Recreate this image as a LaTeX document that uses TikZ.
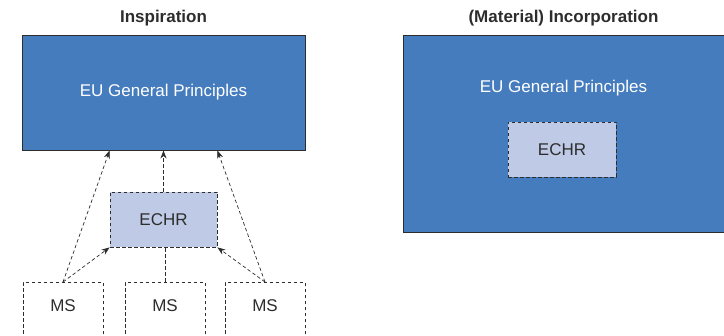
\documentclass[tikz,border=0pt]{standalone}
\usepackage{fontspec}
\setmainfont{Liberation Sans}
\usetikzlibrary{arrows.meta}
\definecolor{eublue}{RGB}{69,124,190}
\definecolor{echrfill}{RGB}{191,203,230}
\definecolor{edge}{RGB}{45,45,45}
\begin{document}
\begin{tikzpicture}[x=1pt,y=-1pt,
  title/.style={font=\fontsize{17}{20}\selectfont\bfseries, text=edge},
  eubox/.style={draw=edge, line width=0.9pt, fill=eublue, text=white,
    font=\fontsize{17}{20}\selectfont, inner sep=0pt},
  echrbox/.style={draw=edge, line width=0.8pt, dash pattern=on 3.5pt off 2.5pt,
    fill=echrfill, text=edge, minimum width=107pt, minimum height=55pt,
    font=\fontsize{17}{20}\selectfont, inner sep=0pt},
  msbox/.style={draw=edge, line width=0.8pt, dash pattern=on 3.5pt off 2.5pt,
    minimum width=80pt, minimum height=80pt, anchor=north, inner sep=0pt},
  mstext/.style={text=edge, font=\fontsize{17}{20}\selectfont, inner sep=0pt},
  link/.style={draw=edge, line width=0.7pt, dash pattern=on 3.5pt off 2.5pt},
  arr/.style={link, -{Stealth[length=8pt,width=6pt,inset=2.5pt]}}
]
\useasboundingbox (0,0) rectangle (724,336);

% Left panel: inspiration
\node[title] (tl) at (163.5,18) {Inspiration};
\node[eubox, minimum width=283pt, minimum height=115pt] (eu) at (163.5,92.5) {EU General Principles};
\node[echrbox] (echr) at (163.5,219.5) {ECHR};

\node[msbox] (ms1) at (63,282) {};
\node[msbox] (ms2) at (165,282) {};
\node[msbox] (ms3) at (265,282) {};
\node[mstext] (ms1t) at (63,306) {MS};
\node[mstext] (ms2t) at (165,306) {MS};
\node[mstext] (ms3t) at (265,306) {MS};

\coordinate (eul) at (echr.west |- eu.south);
\coordinate (eur) at (echr.east |- eu.south);

\draw[arr] (ms1.north) -- (eul);
\draw[arr] (ms1.north) -- (echr.south west);
\draw[arr] (ms3.north) -- (eur);
\draw[arr] (ms3.north) -- (echr.south east);
\draw[link] (ms2.north) -- (ms2.north |- echr.south);
\draw[arr] (echr.north) -- (eu.south);

% Right panel: material incorporation
\node[title] (tr) at (563.5,18) {(Material) Incorporation};
\node[eubox, minimum width=322pt, minimum height=197pt, anchor=north west] (eu2) at (403,35) {};
\node[text=white, font=\fontsize{17}{20}\selectfont, inner sep=0pt] (eu2t) at (563.5,88) {EU General Principles};
\node[echrbox, minimum width=108pt] (echr2) at (562,149.5) {ECHR};
\end{tikzpicture}
\end{document}
